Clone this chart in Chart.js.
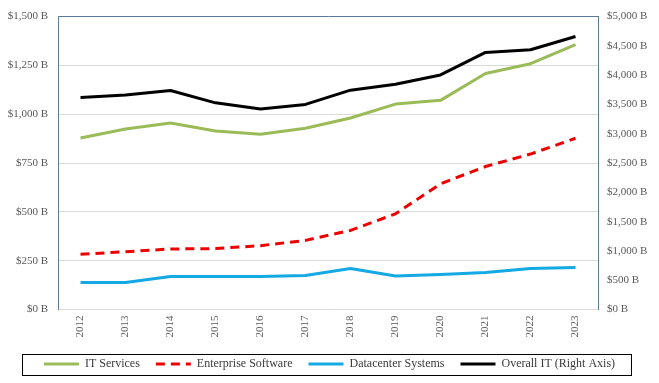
<!DOCTYPE html>
<html>
<head>
<meta charset="utf-8">
<script src="https://cdn.jsdelivr.net/npm/chart.js@4.4.1/dist/chart.umd.min.js"></script>
<style>
  html, body { margin: 0; padding: 0; background: #ffffff; }
  #wrap { position: relative; width: 659px; height: 383px; }
</style>
</head>
<body>
<div id="wrap"><canvas id="c" width="659" height="383"></canvas></div>
<script>
// ---- data ----
const years = ['2012','2013','2014','2015','2016','2017','2018','2019','2020','2021','2022','2023'];
const itServices = [878, 924, 955, 914, 898, 928, 981, 1052, 1071, 1209, 1259, 1356];
const enterpriseSoftware = [283, 296, 310, 312, 327, 354, 405, 490, 644, 732, 796, 877];
const datacenterSystems = [138, 138, 169, 169, 169, 174, 210, 172, 179, 189, 210, 215];
const overallIT = [3620, 3660, 3739, 3528, 3421, 3501, 3744, 3846, 4004, 4389, 4435, 4661];
const seriesNames = ['IT Services', 'Enterprise Software', 'Datacenter Systems', 'Overall IT (Right Axis)'];
const leftTicks = [0, 250, 500, 750, 1000, 1250, 1500];
const rightTicks = [0, 500, 1000, 1500, 2000, 2500, 3000, 3500, 4000, 4500, 5000];

const FONT = 'Liberation Serif';
const AXIS_BLUE = '#5b7a98';
const GRID = '#d9d9d9';
const fmt = v => '$' + Number(v).toLocaleString('en-US') + ' B';

const legendBox = {
  id: 'legendBox',
  afterDraw(chart) {
    const lg = chart.legend;
    if (!lg || !lg.legendHitBoxes || !lg.legendHitBoxes.length) return;
    const hb = lg.legendHitBoxes;
    const first = hb[0], last = hb[hb.length - 1];
    const l = first.left - 22, r = last.left + last.width + 16;
    const cy = first.top + first.height / 2;
    const ctx = chart.ctx;
    ctx.save();
    ctx.strokeStyle = '#000000';
    ctx.lineWidth = 1;
    ctx.strokeRect(Math.round(l) + 0.5, Math.round(cy - 10.5) + 0.5, Math.round(r - l), 21);
    ctx.restore();
  }
};

new Chart(document.getElementById('c'), {
  type: 'line',
  data: {
    labels: years,
    datasets: [
      { label: seriesNames[0], data: itServices, borderColor: '#9bbb59', backgroundColor: '#9bbb59', borderWidth: 3, yAxisID: 'y' },
      { label: seriesNames[1], data: enterpriseSoftware, borderColor: '#ee0000', backgroundColor: '#ee0000', borderWidth: 3, borderDash: [9, 6], yAxisID: 'y' },
      { label: seriesNames[2], data: datacenterSystems, borderColor: '#14a9e3', backgroundColor: '#14a9e3', borderWidth: 3, yAxisID: 'y' },
      { label: seriesNames[3], data: overallIT, borderColor: '#000000', backgroundColor: '#000000', borderWidth: 3, yAxisID: 'y1' }
    ]
  },
  options: {
    responsive: false,
    animation: false,
    devicePixelRatio: 1,
    layout: { padding: { top: 15, bottom: 3, left: 0, right: 0 } },
    elements: { point: { radius: 0, hoverRadius: 0 }, line: { tension: 0, borderCapStyle: 'butt', borderJoinStyle: 'round' } },
    plugins: {
      tooltip: { enabled: false },
      legend: {
        position: 'bottom',
        labels: {
          usePointStyle: true,
          pointStyle: 'line',
          pointStyleWidth: 35,
          boxWidth: 35,
          boxHeight: 3,
          padding: 16,
          color: '#3a3a3a',
          font: { family: FONT, size: 12 },
          generateLabels(chart) {
            return chart.data.datasets.map((ds, i) => ({
              text: ds.label,
              datasetIndex: i,
              fillStyle: ds.borderColor,
              strokeStyle: ds.borderColor,
              lineWidth: 3,
              lineDash: ds.borderDash || [],
              lineCap: 'butt',
              pointStyle: 'line',
              fontColor: '#3a3a3a',
              hidden: false
            }));
          }
        }
      }
    },
    scales: {
      x: {
        type: 'category',
        offset: true,
        grid: { display: false, drawTicks: false },
        border: { display: true, color: GRID, width: 1 },
        ticks: { color: '#595959', font: { family: FONT, size: 11 }, minRotation: 90, maxRotation: 90, padding: 6, autoSkip: false },
        afterFit(s) { s.height = 32.5; }
      },
      y: {
        position: 'left',
        min: 0, max: 1500,
        afterBuildTicks(s) { s.ticks = leftTicks.map(v => ({ value: v })); },
        grid: {
          drawTicks: false,
          color: c => (c.tick && c.tick.value === 1500) ? AXIS_BLUE : GRID,
          lineWidth: 1
        },
        border: { display: true, color: AXIS_BLUE, width: 1 },
        ticks: { color: '#595959', font: { family: FONT, size: 11 }, padding: 10, callback: v => fmt(v) },
        afterFit(s) { s.width = 58; }
      },
      y1: {
        position: 'right',
        min: 0, max: 5000,
        afterBuildTicks(s) { s.ticks = rightTicks.map(v => ({ value: v })); },
        grid: { display: false, drawTicks: false },
        border: { display: true, color: AXIS_BLUE, width: 1 },
        ticks: { color: '#595959', font: { family: FONT, size: 11 }, padding: 9, callback: v => fmt(v) },
        afterFit(s) { s.width = 61; }
      }
    }
  },
  plugins: [legendBox]
});
</script>
</body>
</html>
